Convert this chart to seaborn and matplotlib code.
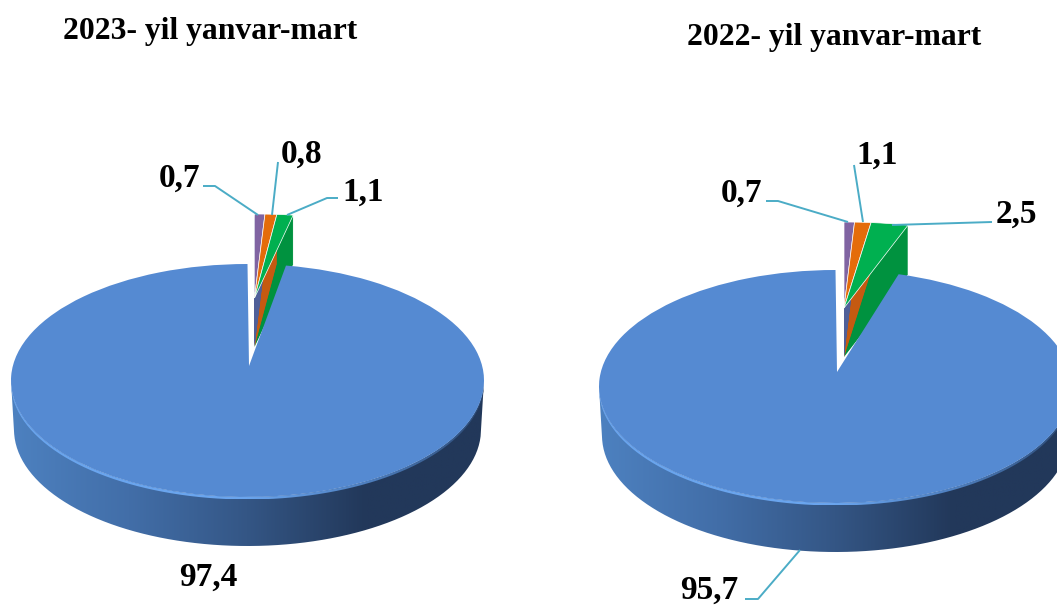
import numpy as np
import matplotlib
matplotlib.use('Agg')
import matplotlib.pyplot as plt
from matplotlib.path import Path
from matplotlib.patches import PathPatch
import seaborn as sns

# Shares, in pie order: other 1, other 2, other 3, main
values_2023 = [0.7, 0.8, 1.1, 97.4]
values_2022 = [0.7, 1.1, 2.5, 95.7]
title_2023 = '2023- yil yanvar-mart'
title_2022 = '2022- yil yanvar-mart'
labels_2023 = ['0,7', '0,8', '1,1', '97,4']
labels_2022 = ['0,7', '1,1', '2,5', '95,7']

top_colors = ['#8064a2', '#e46c0a', '#00b050', '#558ad2']
wall_colors = ['#4f5f99', '#c55a11', '#00923f', '#558ad2']
line_color = '#4bacc6'

W, H = 1057, 605
DEPTH = 49

sns.set_theme(style='white')
plt.rcParams['font.family'] = ['Liberation Serif', 'DejaVu Serif']

fig = plt.figure(figsize=(W / 100, H / 100), dpi=100)
bg = fig.add_axes([0, 0, 1, 1], zorder=0)
top = fig.add_axes([0, 0, 1, 1], zorder=5)
for a in (bg, top):
    a.set_xlim(0, W)
    a.set_ylim(H, 0)
    a.axis('off')
top.patch.set_alpha(0)

wall_cmap = sns.blend_palette(['#4d81c0', '#426ea8', '#345685', '#22385a', '#22385a'], as_cmap=True)
rim_cmap = sns.blend_palette(['#6aa5ee', '#6aa5ee', '#6aa5ee', '#4f80c0', '#2c4a75'], as_cmap=True)
no_edge = {'edgecolor': 'none', 'linewidth': 0}


def band_path(x0, yc, a, b, dy, shrink):
    t = np.linspace(np.pi, 0, 160)
    upper = np.column_stack([x0 + a * np.cos(t), yc + b * np.sin(t)])
    lower = np.column_stack([x0 + (a - shrink) * np.cos(t[::-1]), yc + dy + b * np.sin(t[::-1])])
    return Path(np.vstack([upper, lower, upper[:1]]))


def gradient_band(x0, yc, a, b, dy, shrink, cmap):
    im = bg.imshow(np.linspace(0, 1, 256).reshape(1, -1), cmap=cmap, aspect='auto',
                   extent=[x0 - a, x0 + a, yc + b + dy, yc - b])
    clip = PathPatch(band_path(x0, yc, a, b, dy, shrink), transform=bg.transData, fc='none', ec='none')
    bg.add_patch(clip)
    im.set_clip_path(clip)
    bg.set_xlim(0, W)
    bg.set_ylim(H, 0)


def pie_axes(x0, yc, a, b, z):
    ax = fig.add_axes([(x0 - a) / W, 1 - (yc + b) / H, 2 * a / W, 2 * b / H], zorder=z)
    ax.patch.set_alpha(0)
    return ax


def finish(ax):
    ax.set_aspect('auto')
    ax.set_xlim(-1, 1)
    ax.set_ylim(-1, 1)
    ax.axis('off')


def draw_pie(values, x0, yc, a, b, apex_y, small_x, small_y, small_a, small_b):
    # side wall and its light rim
    gradient_band(x0, yc, a, b, DEPTH, 3, wall_cmap)
    gradient_band(x0, yc, a, b, 2.5, 0, rim_cmap)

    # pulled out small slices, each side stacked on its own, front one last
    ax = pie_axes(small_x, small_y, small_a, small_b, 1)
    for i in (2, 1, 0):
        for dy in range(DEPTH, 0, -1):
            w, _ = ax.pie(values, colors=wall_colors, startangle=90, counterclock=False,
                          center=(0, -dy / small_b), radius=1, wedgeprops=no_edge)
            for j, s in enumerate(w):
                s.set_visible(j == i)
    w, _ = ax.pie(values, colors=top_colors, startangle=90, counterclock=False,
                  wedgeprops={'edgecolor': 'white', 'linewidth': 0.5})
    w[-1].set_visible(False)
    finish(ax)

    # main slice, apex moved up for the perspective
    ax = pie_axes(x0, yc, a, b, 2)
    w, _ = ax.pie(values, colors=top_colors, startangle=90, counterclock=False, wedgeprops=no_edge)
    for s in w[:-1]:
        s.set_visible(False)
    main = w[-1]
    verts = main.get_path().vertices
    near = np.hypot(verts[:, 0], verts[:, 1]) < 1e-6
    verts[near, 1] = (yc - apex_y) / b
    verts[near, 0] = 1.5 / a
    finish(ax)


draw_pie(values_2023, 247.5, 380.5, 236.5, 116.5, 366, 254.5, 298, 238, 84)
draw_pie(values_2022, 835.5, 386.5, 236.5, 116.5, 372, 844, 308, 240, 86)

leaders = [
    ([203, 215, 258], [186, 186, 215]),
    ([278, 272], [162, 215]),
    ([338, 327, 287], [198, 198, 215]),
    ([766, 778, 848], [201, 201, 222]),
    ([854, 863], [165, 222]),
    ([992, 892], [222, 225]),
    ([745, 758, 800], [599, 599, 550]),
]
for xs, ys in leaders:
    top.plot(xs, ys, color=line_color, lw=1.4, solid_capstyle='butt')

label_xy_2023 = [(180, 178), (302, 154), (363, 192), (208, 577)]
label_xy_2022 = [(742, 193), (877, 155), (1016, 214), (709, 590)]
for labs, xy in ((labels_2023, label_xy_2023), (labels_2022, label_xy_2022)):
    for lab, (x, y) in zip(labs, xy):
        top.text(x, y, lab, ha='center', va='center', fontsize=24, fontweight='bold', color='black')

top.text(63, 31, title_2023, ha='left', va='center', fontsize=22.8, fontweight='bold', color='black')
top.text(687, 38, title_2022, ha='left', va='center', fontsize=22.8, fontweight='bold', color='black')

fig.savefig('out.png', dpi=100)
